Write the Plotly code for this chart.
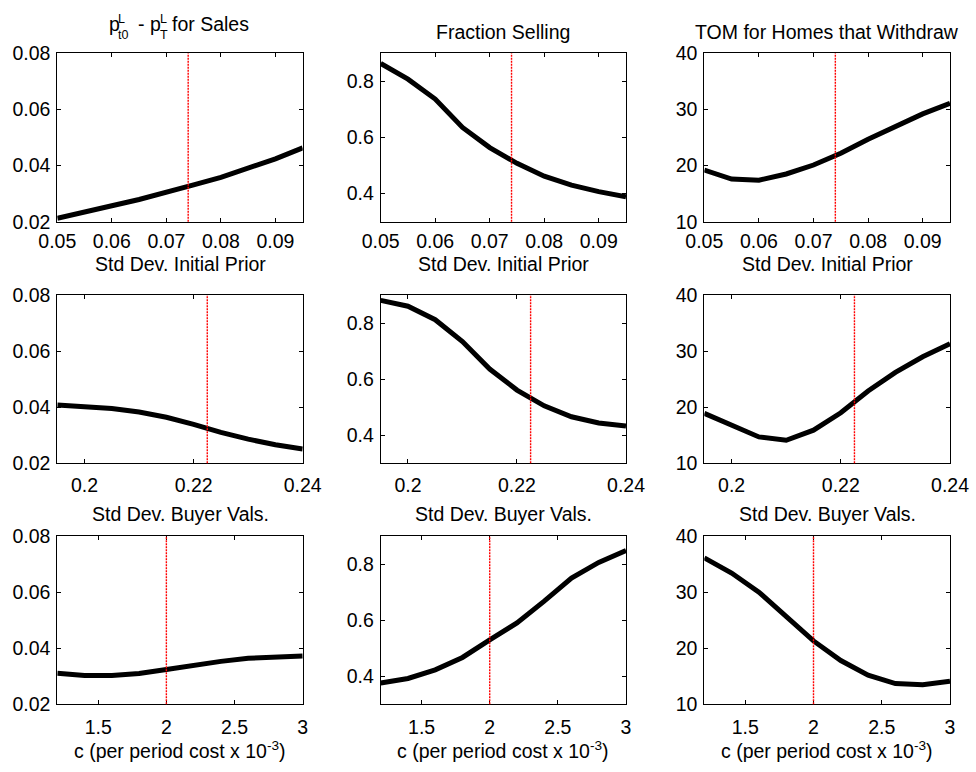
import plotly.graph_objects as go

# ---- data -------------------------------------------------------------
prior_sd = [0.050, 0.055, 0.060, 0.065, 0.070, 0.075, 0.080, 0.085, 0.090, 0.095]
buyer_sd = [0.195, 0.200, 0.205, 0.210, 0.215, 0.220, 0.225, 0.230, 0.235, 0.240]
cost_c = [1.2, 1.4, 1.6, 1.8, 2.0, 2.2, 2.4, 2.6, 2.8, 3.0]

# list-price drop for sales
drop_prior = [0.0212, 0.0236, 0.0257, 0.0279, 0.0303, 0.0331, 0.0358, 0.0389, 0.0424, 0.0463]
drop_buyer = [0.0408, 0.0402, 0.0395, 0.0383, 0.0364, 0.0339, 0.0310, 0.0286, 0.0266, 0.0251]
drop_cost = [0.0311, 0.0303, 0.0303, 0.0310, 0.0324, 0.0339, 0.0353, 0.0364, 0.0370, 0.0372]

# fraction selling
sell_prior = [0.864, 0.808, 0.737, 0.636, 0.564, 0.508, 0.462, 0.430, 0.407, 0.389]
sell_buyer = [0.881, 0.860, 0.812, 0.734, 0.636, 0.561, 0.505, 0.466, 0.444, 0.433]
sell_cost = [0.376, 0.392, 0.423, 0.467, 0.530, 0.590, 0.668, 0.750, 0.806, 0.848]

# time on market for withdrawn homes
tom_prior = [19.2, 17.6, 17.4, 18.5, 20.1, 22.2, 24.7, 27.0, 29.2, 31.1]
tom_buyer = [18.9, 16.7, 14.7, 14.1, 15.9, 19.0, 22.9, 26.2, 29.0, 31.3]
tom_cost = [36.1, 33.4, 30.0, 25.7, 21.3, 17.8, 15.2, 13.7, 13.5, 14.1]

# baseline calibration values (red markers)
base_prior = 0.074
base_buyer = 0.2225
base_cost = 2.0

x_titles = ["Std Dev. Initial Prior", "Std Dev. Buyer Vals.",
            "c (per period cost x 10<sup>-3</sup>)"]
col_titles = ["Fraction Selling", "TOM for Homes that Withdraw"]

x_ranges = [[0.05, 0.095], [0.195, 0.24], [1.2, 3.0]]
x_tickvals = [[0.05, 0.06, 0.07, 0.08, 0.09], [0.2, 0.22, 0.24], [1.5, 2, 2.5, 3]]
x_ticktext = [["0.05", "0.06", "0.07", "0.08", "0.09"], ["0.2", "0.22", "0.24"],
              ["1.5", "2", "2.5", "3"]]
y_ranges = [[0.02, 0.08], [0.3, 0.9], [10, 40]]
y_tickvals = [[0.02, 0.04, 0.06, 0.08], [0.4, 0.6, 0.8], [10, 20, 30, 40]]
y_ticktext = [["0.02", "0.04", "0.06", "0.08"], ["0.4", "0.6", "0.8"],
              ["10", "20", "30", "40"]]

xs = [prior_sd, buyer_sd, cost_c]
ys = [[drop_prior, sell_prior, tom_prior],
      [drop_buyer, sell_buyer, tom_buyer],
      [drop_cost, sell_cost, tom_cost]]
bases = [base_prior, base_buyer, base_cost]

# ---- layout geometry (pixels) ------------------------------------------
W, H = 976, 772
col_px = [(57.3, 302.7), (380.7, 626.0), (704.3, 950.0)]
row_px = [(53.3, 221.7), (295.0, 463.3), (536.0, 704.3)]
xtitle_y = [264.0, 514.0, 750.0]
xtick_standoff = [2, 4, 5]

def px_x(p):
    return p / W

def px_y(p):
    return 1 - p / H

FONT = "Liberation Sans, Arial, Helvetica, sans-serif"
FS = 19.5

fig = go.Figure()
layout = dict(
    width=W, height=H,
    margin=dict(l=0, r=0, t=0, b=0, autoexpand=False),
    paper_bgcolor="white", plot_bgcolor="white",
    showlegend=False,
    font=dict(family=FONT, size=FS, color="black"),
)
shapes = []
annotations = []

for r in range(3):
    for c in range(3):
        k = r * 3 + c + 1
        xa = "x" if k == 1 else f"x{k}"
        ya = "y" if k == 1 else f"y{k}"
        xkey = "xaxis" if k == 1 else f"xaxis{k}"
        ykey = "yaxis" if k == 1 else f"yaxis{k}"
        x0, x1 = col_px[c]
        y0, y1 = row_px[r]
        layout[xkey] = dict(
            domain=[px_x(x0), px_x(x1)], anchor=ya, range=x_ranges[r],
            tickvals=x_tickvals[r], ticktext=x_ticktext[r],
            ticks="inside", ticklen=4, tickwidth=1, tickcolor="black",
            showline=True, linecolor="black", linewidth=1, mirror="ticks",
            showgrid=False, zeroline=False, automargin=False,
            ticklabelstandoff=xtick_standoff[r],
            tickfont=dict(family=FONT, size=FS, color="black"),
        )
        layout[ykey] = dict(
            domain=[px_y(y1), px_y(y0)], anchor=xa, range=y_ranges[c],
            tickvals=y_tickvals[c], ticktext=y_ticktext[c],
            ticks="inside", ticklen=4, tickwidth=1, tickcolor="black",
            showline=True, linecolor="black", linewidth=1, mirror="ticks",
            showgrid=False, zeroline=False, automargin=False,
            ticklabelstandoff=2,
            tickfont=dict(family=FONT, size=FS, color="black"),
        )
        fig.add_trace(go.Scatter(
            x=xs[r], y=ys[r][c], mode="lines",
            line=dict(color="black", width=5),
            xaxis=xa, yaxis=ya, hoverinfo="skip",
        ))
        shapes.append(dict(
            type="line", xref=xa, yref=f"{ya} domain",
            x0=bases[r], x1=bases[r], y0=0, y1=1,
            line=dict(color="#ff0000", width=1.4, dash="2px,1px"), layer="above",
        ))
        # x-axis title under every panel
        annotations.append(dict(
            text=x_titles[r], xref="paper", yref="paper",
            x=px_x((x0 + x1) / 2), y=px_y(xtitle_y[r]),
            xanchor="center", yanchor="middle", showarrow=False,
            font=dict(family=FONT, size=FS, color="black"),
        ))

# column titles
for c, t in enumerate(col_titles, start=1):
    x0, x1 = col_px[c]
    annotations.append(dict(
        text=t, xref="paper", yref="paper",
        x=px_x((x0 + x1) / 2), y=px_y(32), xanchor="center", yanchor="middle",
        showarrow=False, font=dict(family=FONT, size=FS, color="black"),
    ))

# first column title: p^L_{t0} - p^L_T for Sales, with stacked indices
SS = 12.5
title_parts = [
    ("p", 106.5, 24.0, FS),
    ("L", 115.5, 19.0, SS),
    ("t0", 115.5, 35.0, SS),
    ("-", 136.0, 24.0, FS),
    ("p", 147.5, 24.0, FS),
    ("L", 157.5, 19.0, SS),
    ("T", 157.5, 35.0, SS),
    ("for Sales", 169.5, 24.0, FS),
]
for txt, px, py, fs in title_parts:
    annotations.append(dict(
        text=txt, xref="paper", yref="paper", x=px_x(px), y=px_y(py),
        xanchor="left", yanchor="middle", showarrow=False,
        font=dict(family=FONT, size=fs, color="black"),
    ))

layout["shapes"] = shapes
layout["annotations"] = annotations
fig.update_layout(**layout)
fig.write_html("out.html")
